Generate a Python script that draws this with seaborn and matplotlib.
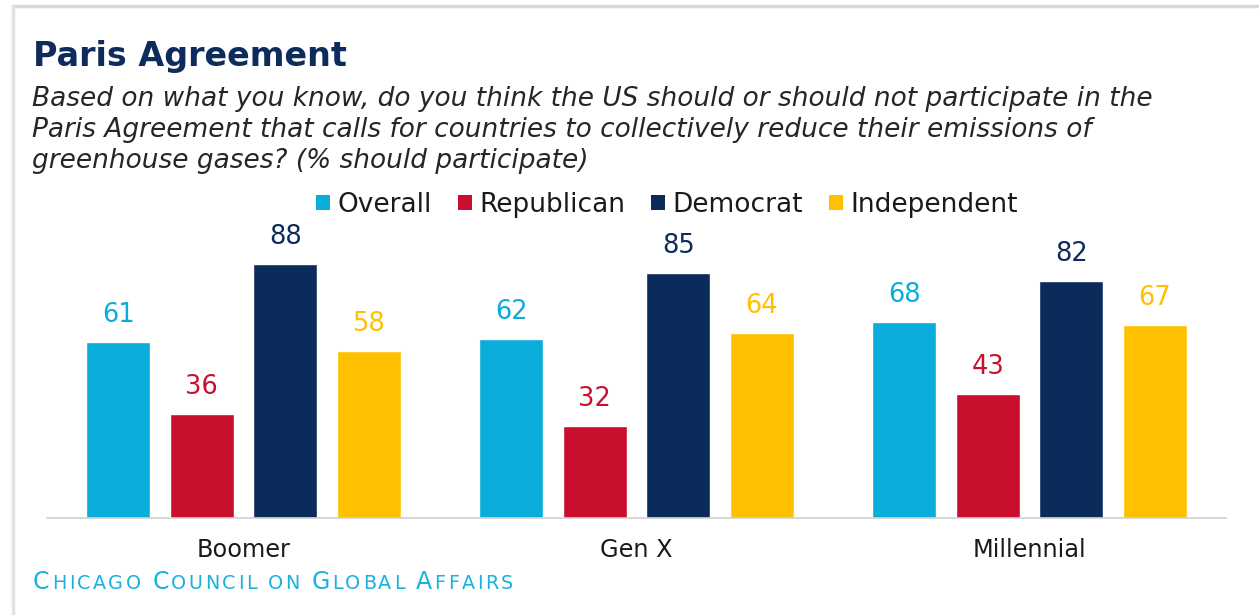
import matplotlib
matplotlib.use("Agg")
import matplotlib.pyplot as plt
import seaborn as sns
import pandas as pd
from matplotlib.patches import Patch
from matplotlib.lines import Line2D

generations = ["Boomer", "Gen X", "Millennial"]
parties = ["Overall", "Republican", "Democrat", "Independent"]
overall = [61, 62, 68]
republican = [36, 32, 43]
democrat = [88, 85, 82]
independent = [58, 64, 67]
colors = ["#0aacd9", "#c8102e", "#0b2b5b", "#ffc000"]

title = "Paris Agreement"
subtitle_lines = [
    "Based on what you know, do you think the US should or should not participate in the",
    "Paris Agreement that calls for countries to collectively reduce their emissions of",
    "greenhouse gases? (% should participate)",
]
footer_words = ["Chicago", "Council", "on", "Global", "Affairs"]

rows = []
for p, vals in zip(parties, [overall, republican, democrat, independent]):
    for g, v in zip(generations, vals):
        rows.append({"generation": g, "party": p, "value": v})
df = pd.DataFrame(rows)

sns.set_theme(style="white")
plt.rcParams["font.family"] = ["DejaVu Sans"]

W, H = 1259, 615
fig = plt.figure(figsize=(W / 100, H / 100), dpi=100)
ax = fig.add_axes([47 / W, 1 - 518 / H, 1179 / W, 288.6 / H])

sns.barplot(data=df, x="generation", y="value", hue="party", hue_order=parties,
            order=generations, palette=colors, width=0.85, gap=0.23, ax=ax,
            legend=False, saturation=1)

for cont, c in zip(ax.containers, colors):
    ax.bar_label(cont, padding=10, color=c, fontsize=18.5)

ax.set_xlim(-0.5, 2.5)
ax.set_ylim(0, 100)
ax.set_xlabel("")
ax.set_ylabel("")
ax.set_yticks([])
ax.tick_params(axis="x", length=0, labelsize=17.3, labelcolor="#1a1a1a", pad=14.5)
for s in ["top", "left", "right"]:
    ax.spines[s].set_visible(False)
ax.spines["bottom"].set_color("#d0d0d0")
ax.spines["bottom"].set_linewidth(1.2)

# title and subtitle
fig.text(33 / W, 1 - 66 / H, title, fontsize=24.0, fontweight="bold", color="#0d2b5b",
         va="baseline", ha="left")
for i, line in enumerate(subtitle_lines):
    fig.text(32 / W, 1 - (106 + 31 * i) / H, line, fontsize=19.0, fontstyle="italic",
             color="#262626", va="baseline", ha="left")

# legend
handles = [Patch(facecolor=c, edgecolor="none") for c in colors]
fig.legend(handles, parties, loc="center", bbox_to_anchor=(667 / W, 1 - 205 / H), ncol=4,
           frameon=False, fontsize=19, handlelength=0.52, handleheight=0.52,
           handletextpad=0.28, columnspacing=1.0, labelcolor="#1a1a1a")

# footer in small caps with tracking
fig.canvas.draw()
renderer = fig.canvas.get_renderer()
x = 33 / W
y = 1 - 589 / H
foot_color = "#1ab0e0"
track = 2.45 / W
for w in footer_words:
    chars = []
    for j, ch in enumerate(w):
        if j == 0 and ch.isupper():
            chars.append((ch, 17))
        else:
            chars.append((ch.upper(), 13.8))
    for txt, fs in chars:
        t = fig.text(x, y, txt, fontsize=fs, color=foot_color, va="baseline", ha="left")
        bb = t.get_window_extent(renderer)
        x += bb.width / W + track
    x += 9 / W

# screenshot border
fig.add_artist(Line2D([13 / W, 1], [1 - 6 / H, 1 - 6 / H], color="#d9d9d9", lw=2.5,
                      transform=fig.transFigure))
fig.add_artist(Line2D([13 / W, 13 / W], [0, 1 - 6 / H], color="#e3e3e3", lw=2.5,
                      transform=fig.transFigure))

fig.savefig("out.png", dpi=100, facecolor="white")
